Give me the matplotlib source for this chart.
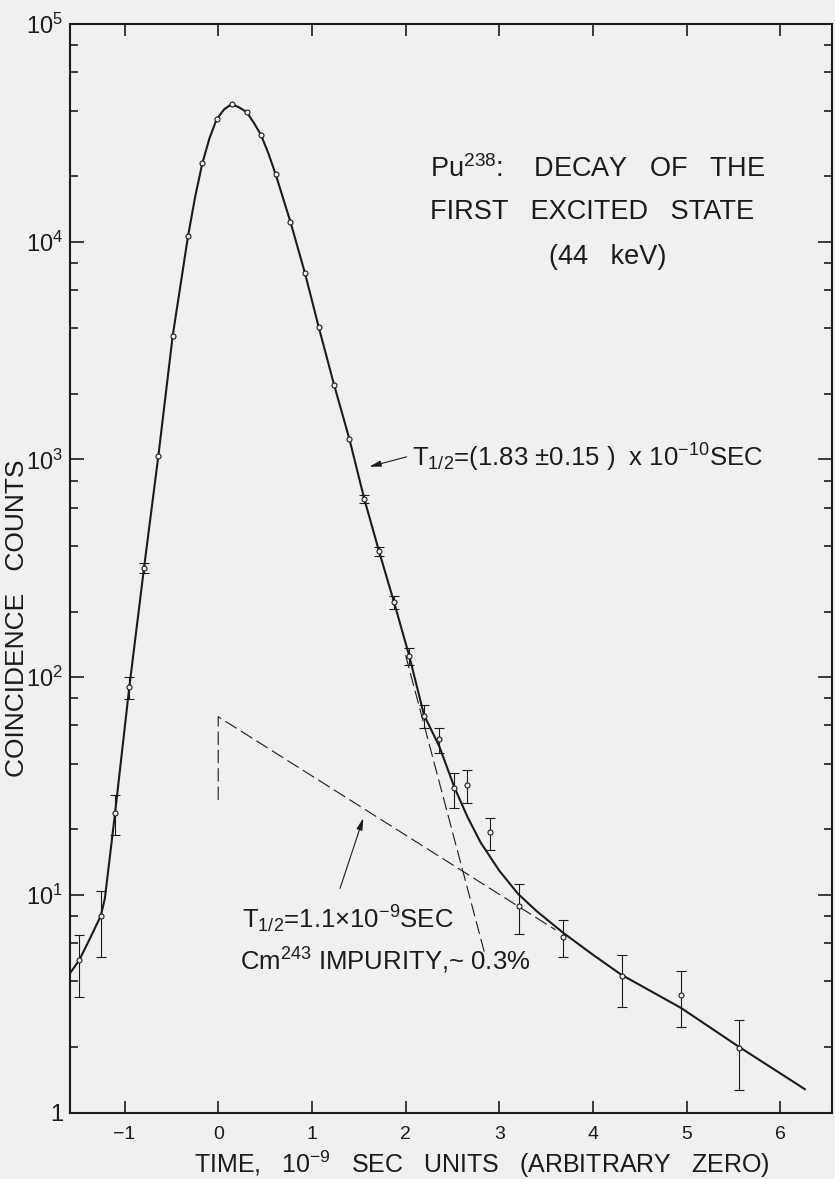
import numpy as np
import matplotlib
matplotlib.use("Agg")
import matplotlib.pyplot as plt
from matplotlib.ticker import LogLocator, NullFormatter, FixedLocator

# -------------------------
# values
# -------------------------
time_ns = [-1.482, -1.254, -1.101, -0.949, -0.792, -0.639, -0.486, -0.322,
           -0.170, -0.016, 0.144, 0.304, 0.457, 0.613, 0.770, 0.926, 1.072,
           1.236, 1.399, 1.559, 1.716, 1.876, 2.039, 2.196, 2.359, 2.516,
           2.658, 2.900, 3.210, 3.683, 4.306, 4.935, 5.561]
counts = [5.02, 7.99, 23.7, 89.8, 317, 1036, 3690, 10620, 22900, 36600,
          42900, 39400, 30900, 20400, 12370, 7170, 4060, 2205, 1245, 658,
          379, 221, 125, 66.2, 51.8, 31.0, 31.9, 19.4, 8.91, 6.42, 4.25,
          3.45, 1.98]

# error bars (only where they stick out of the circles)
err_t = [-1.482, -1.254, -1.101, -0.949, -0.792, 1.559, 1.716, 1.876, 2.039,
         2.196, 2.359, 2.516, 2.658, 2.900, 3.210, 3.683, 4.306, 4.935, 5.561]
err_lo = [3.40, 5.2, 18.8, 79.5, 300, 632, 360, 206, 114, 58.4, 45.0, 25.1,
          26.3, 16.1, 6.63, 5.18, 3.06, 2.47, 1.27]
err_hi = [6.56, 10.4, 28.7, 99.8, 335, 684, 398, 236, 136, 74.5, 58.5, 36.4,
          37.4, 22.6, 11.2, 7.66, 5.29, 4.47, 2.66]

# fitted curve
fit_t = [-1.582, -1.482, -1.368, -1.254, -1.21, -1.16, -1.101, -0.949, -0.792,
         -0.639, -0.486, -0.322, -0.246, -0.170, -0.093, -0.016, 0.064, 0.144,
         0.224, 0.304, 0.380, 0.457, 0.535, 0.613, 0.770, 0.926, 1.072, 1.236,
         1.399, 1.559, 1.716, 1.876, 2.039, 2.196, 2.36, 2.52, 2.66, 2.80,
         3.0, 3.2, 3.4, 3.68, 4.0, 4.3, 4.94, 5.56, 6.26]
fit_c = [4.36, 5.02, 6.31, 7.99, 9.6, 14.5, 23.7, 89.8, 317, 1036, 3690,
         10620, 16100, 22900, 29900, 36600, 40600, 42900, 41400, 39400, 35200,
         30900, 25500, 20400, 12370, 7170, 4060, 2205, 1245, 658, 379, 221,
         125, 67, 48, 31.2, 22.8, 17.4, 12.9, 10.1, 8.4, 6.7, 5.3, 4.3, 3.02,
         2.0, 1.28]

# dashed components
imp_t = [0.0, 0.0, 3.6]
imp_c = [27.3, 65.8, 6.9]
prompt_t = [2.0, 2.84]
prompt_c = [126, 5.45]

x_ticks = [-1, 0, 1, 2, 3, 4, 5, 6]
x_labels = ["\u22121", "0", "1", "2", "3", "4", "5", "6"]
y_ticks = [1, 10, 100, 1000, 10000, 100000]
y_labels = ["1", "$10^{1}$", "$10^{2}$", "$10^{3}$", "$10^{4}$", "$10^{5}$"]

INK = "#1b1b1b"
BG = "#f0f0f0"
FONT = ["Liberation Sans", "DejaVu Sans"]

plt.rcParams["font.family"] = FONT
plt.rcParams["mathtext.fontset"] = "custom"
plt.rcParams["mathtext.rm"] = "Liberation Sans"
plt.rcParams["mathtext.it"] = "Liberation Sans"
plt.rcParams["mathtext.bf"] = "Liberation Sans"
plt.rcParams["mathtext.default"] = "rm"


def main():
    fig = plt.figure(figsize=(8.35, 11.79), dpi=100, facecolor=BG)
    ax = fig.add_axes([0.0838, 0.0564, 0.9126, 0.9232], facecolor=BG)

    # curves
    ax.plot(fit_t, fit_c, color=INK, lw=1.5, zorder=3)
    ax.plot(imp_t, imp_c, color=INK, lw=0.8, ls=(0, (12, 4.5)), zorder=2)
    ax.plot(prompt_t, prompt_c, color=INK, lw=0.8, ls=(0, (12, 4.5)), zorder=2)

    # error bars
    ax.vlines(err_t, err_lo, err_hi, color=INK, lw=0.8, zorder=3)
    ax.plot(err_t, err_lo, ls="none", marker="_", ms=7, mew=0.8, color=INK, zorder=3)
    ax.plot(err_t, err_hi, ls="none", marker="_", ms=7, mew=0.8, color=INK, zorder=3)

    # data points
    ax.plot(time_ns, counts, ls="none", marker="o", ms=3.6, mew=0.8,
            mec=INK, mfc=BG, zorder=4)

    ax.set_yscale("log")
    ax.set_xlim(-1.582, 6.55)
    ax.set_ylim(1, 1e5)

    ax.set_xticks(x_ticks)
    ax.set_xticklabels(x_labels)
    ax.yaxis.set_major_locator(FixedLocator(y_ticks))
    ax.set_yticklabels(y_labels)
    ax.yaxis.set_minor_locator(LogLocator(base=10, subs=(2, 4, 6, 8)))
    ax.yaxis.set_minor_formatter(NullFormatter())

    ax.tick_params(axis="both", which="both", direction="in", color=INK,
                   labelcolor=INK, top=True, right=True, width=1.2)
    ax.tick_params(axis="x", which="major", length=8.5, labelsize=14, pad=10)
    ax.tick_params(axis="y", which="major", length=10, labelsize=17, pad=5)
    ax.tick_params(axis="y", which="minor", length=6)
    for sp in ax.spines.values():
        sp.set_linewidth(1.5)
        sp.set_color(INK)

    ax.set_xlabel("TIME,   10$^{-9}$   SEC   UNITS   (ARBITRARY   ZERO)",
                  fontsize=18, color=INK)
    ax.xaxis.set_label_coords(0.540, -0.0330)
    ax.set_ylabel("COINCIDENCE   COUNTS", fontsize=19, color=INK)
    ax.yaxis.set_label_coords(-0.0535, 0.454)

    # -------------------------
    # labels inside the frame
    # -------------------------
    tk = dict(transform=ax.transAxes, color=INK, va="baseline")
    ax.text(0.4724, 0.8594, "Pu$^{238}$:    DECAY   OF   THE", ha="left",
            fontsize=19.5, **tk)
    ax.text(0.4724, 0.8208, "FIRST   EXCITED   STATE", ha="left",
            fontsize=19.5, **tk)
    ax.text(0.706, 0.7800, "(44   keV)", ha="center", fontsize=19.5, **tk)

    ax.text(0.4484, 0.5930,
            "T$_{1/2}$=(1.83 $\\pm$0.15 )  x 10$^{-10}$SEC", ha="left",
            fontsize=18.5, **tk)
    ax.text(0.2253, 0.1695, "T$_{1/2}$=1.1$\\times$10$^{-9}$SEC", ha="left",
            fontsize=18.5, **tk)
    ax.text(0.2231, 0.1310, "Cm$^{243}$ IMPURITY,~ 0.3%", ha="left",
            fontsize=18.5, **tk)

    arrow = dict(arrowstyle="-|>,head_length=0.7,head_width=0.18", lw=0.8,
                 color=INK, shrinkA=0, shrinkB=0)
    ax.annotate("", xy=(1.612, 926), xytext=(2.012, 1028), arrowprops=arrow)
    ax.annotate("", xy=(1.548, 22.5), xytext=(1.30, 10.7), arrowprops=arrow)

    fig.savefig("out.png", dpi=100, facecolor=BG)


if __name__ == "__main__":
    main()
